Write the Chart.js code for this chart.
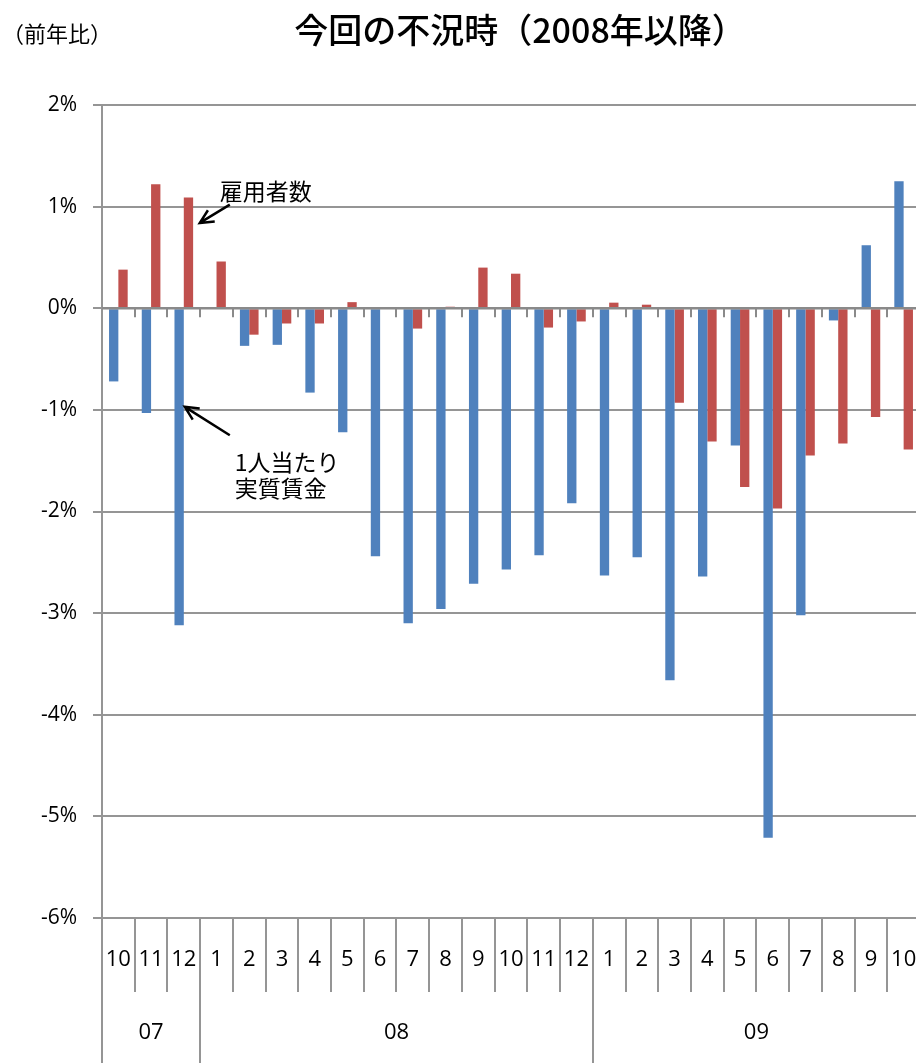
<!DOCTYPE html>
<html lang="ja">
<head>
<meta charset="utf-8">
<title>今回の不況時（2008年以降）</title>
<script src="https://cdn.jsdelivr.net/npm/chart.js@4/dist/chart.umd.min.js"></script>
<style>
  html, body { margin: 0; padding: 0; background: #fff; overflow: hidden; width: 916px; height: 1063px; }
  #wrap { width: 920px; height: 1063px; }
</style>
</head>
<body>
<div id="wrap"><canvas id="chart" width="920" height="1063"></canvas></div>
<script>
// months shown along the bottom, with the year each belongs to
const months = ['10', '11', '12', '1', '2', '3', '4', '5', '6', '7', '8', '9', '10', '11', '12',
                '1', '2', '3', '4', '5', '6', '7', '8', '9', '10'];
const monthYear = ['07', '07', '07', '08', '08', '08', '08', '08', '08', '08', '08', '08', '08', '08', '08',
                   '09', '09', '09', '09', '09', '09', '09', '09', '09', '09'];

// 1人当たり実質賃金 (前年比, %)
const realWage = [-0.72, -1.03, -3.12, 0, -0.37, -0.36, -0.83, -1.22, -2.44, -3.10, -2.96, -2.71, -2.57,
                  -2.43, -1.92, -2.63, -2.45, -3.66, -2.64, -1.35, -5.21, -3.02, -0.12, 0.62, 1.25];
// 雇用者数 (前年比, %)
const employees = [0.38, 1.22, 1.09, 0.46, -0.26, -0.15, -0.15, 0.06, 0, -0.20, 0.015, 0.40, 0.34,
                   -0.19, -0.13, 0.055, 0.035, -0.93, -1.31, -1.76, -1.97, -1.45, -1.33, -1.07, -1.39];

const yMin = -6;
const yMax = 2;

const NUM_FONT = '"Open Sans", sans-serif';
const JP_FONT = '"Noto Sans CJK JP", sans-serif';
const LINE_GRAY = '#959595';

function arrow(ctx, x1, y1, x2, y2) {
    // line from (x1,y1) to the tip (x2,y2) with an open head
    const ang = Math.atan2(y2 - y1, x2 - x1);
    const head = 15;
    ctx.beginPath();
    ctx.moveTo(x1, y1);
    ctx.lineTo(x2, y2);
    ctx.moveTo(x2 - head * Math.cos(ang - 0.45), y2 - head * Math.sin(ang - 0.45));
    ctx.lineTo(x2, y2);
    ctx.lineTo(x2 - head * Math.cos(ang + 0.45), y2 - head * Math.sin(ang + 0.45));
    ctx.stroke();
}

const decorations = {
    id: 'decorations',
    afterDatasetsDraw(chart) {
        const ctx = chart.ctx;
        const area = chart.chartArea;
        const x = chart.scales.x;
        const y = chart.scales.y;
        const cw = (area.right - area.left) / months.length;
        const y0 = y.getPixelForValue(0);

        ctx.save();
        // category axis at zero with its small tick marks
        ctx.strokeStyle = '#8a8a8a';
        ctx.lineWidth = 2.5;
        ctx.beginPath();
        ctx.moveTo(area.left, y0);
        ctx.lineTo(area.right, y0);
        ctx.stroke();
        ctx.lineWidth = 2;
        for (let k = 1; k < months.length; k++) {
            const bx = Math.round(area.left + k * cw);
            ctx.beginPath();
            ctx.moveTo(bx, y0);
            ctx.lineTo(bx, y0 + 9);
            ctx.stroke();
        }

        // label table below the plot
        const H = chart.height;
        ctx.strokeStyle = LINE_GRAY;
        ctx.lineWidth = 2;
        ctx.beginPath();
        ctx.moveTo(area.left, area.bottom);
        ctx.lineTo(area.left, H);
        for (let k = 1; k < months.length; k++) {
            const bx = Math.round(area.left + k * cw);
            const newYear = monthYear[k] !== monthYear[k - 1];
            ctx.moveTo(bx, area.bottom);
            ctx.lineTo(bx, newYear ? H : area.bottom + 74);
        }
        ctx.stroke();

        ctx.fillStyle = '#000';
        ctx.font = '22px ' + NUM_FONT;
        ctx.textAlign = 'center';
        ctx.textBaseline = 'middle';
        months.forEach((m, i) => {
            ctx.fillText(m, x.getPixelForValue(i), area.bottom + 42);
        });
        let start = 0;
        for (let i = 1; i <= monthYear.length; i++) {
            if (i === monthYear.length || monthYear[i] !== monthYear[start]) {
                const cx = area.left + (start + i) / 2 * cw;
                ctx.fillText(monthYear[start], cx, area.bottom + 115);
                start = i;
            }
        }

        // annotations
        ctx.strokeStyle = '#000';
        ctx.lineWidth = 2.5;
        const x12 = x.getPixelForValue(2);
        arrow(ctx, x12 + 46, y.getPixelForValue(1.02), x12 + 16, y.getPixelForValue(0.84));
        arrow(ctx, x12 + 46, y.getPixelForValue(-1.25), x12 + 1, y.getPixelForValue(-0.97));

        ctx.font = '23px ' + JP_FONT;
        ctx.textAlign = 'left';
        ctx.fillText('雇用者数', x12 + 36, y.getPixelForValue(1.15));
        ctx.fillText('1人当たり', x12 + 51, y.getPixelForValue(-1.52));
        ctx.fillText('実質賃金', x12 + 51, y.getPixelForValue(-1.77));

        // titles
        ctx.font = '500 34px ' + JP_FONT;
        ctx.textAlign = 'center';
        ctx.fillText('今回の不況時（2008年以降）', 520, 30);
        ctx.font = '22px ' + JP_FONT;
        ctx.textAlign = 'left';
        ctx.fillText('（前年比）', 2, 34);
        ctx.restore();
    }
};

new Chart(document.getElementById('chart'), {
    type: 'bar',
    data: {
        labels: months,
        datasets: [
            { label: '1人当たり実質賃金', data: realWage, backgroundColor: '#4F81BD' },
            { label: '雇用者数', data: employees, backgroundColor: '#C0504D' }
        ]
    },
    options: {
        responsive: false,
        animation: false,
        devicePixelRatio: 1,
        layout: { padding: { top: 105, bottom: 145, left: 0, right: 0 } },
        datasets: { bar: { barPercentage: 1.0, categoryPercentage: 0.57 } },
        plugins: { legend: { display: false }, tooltip: { enabled: false } },
        scales: {
            x: { display: false },
            y: {
                min: yMin,
                max: yMax,
                afterFit(scale) { scale.width = 102; },
                ticks: {
                    stepSize: 1,
                    color: '#000',
                    padding: 16,
                    font: { family: NUM_FONT, size: 21 },
                    callback: v => v + '%'
                },
                grid: { color: LINE_GRAY, lineWidth: 2, tickLength: 9 },
                border: { color: LINE_GRAY, width: 2 }
            }
        }
    },
    plugins: [decorations]
});
</script>
</body>
</html>
